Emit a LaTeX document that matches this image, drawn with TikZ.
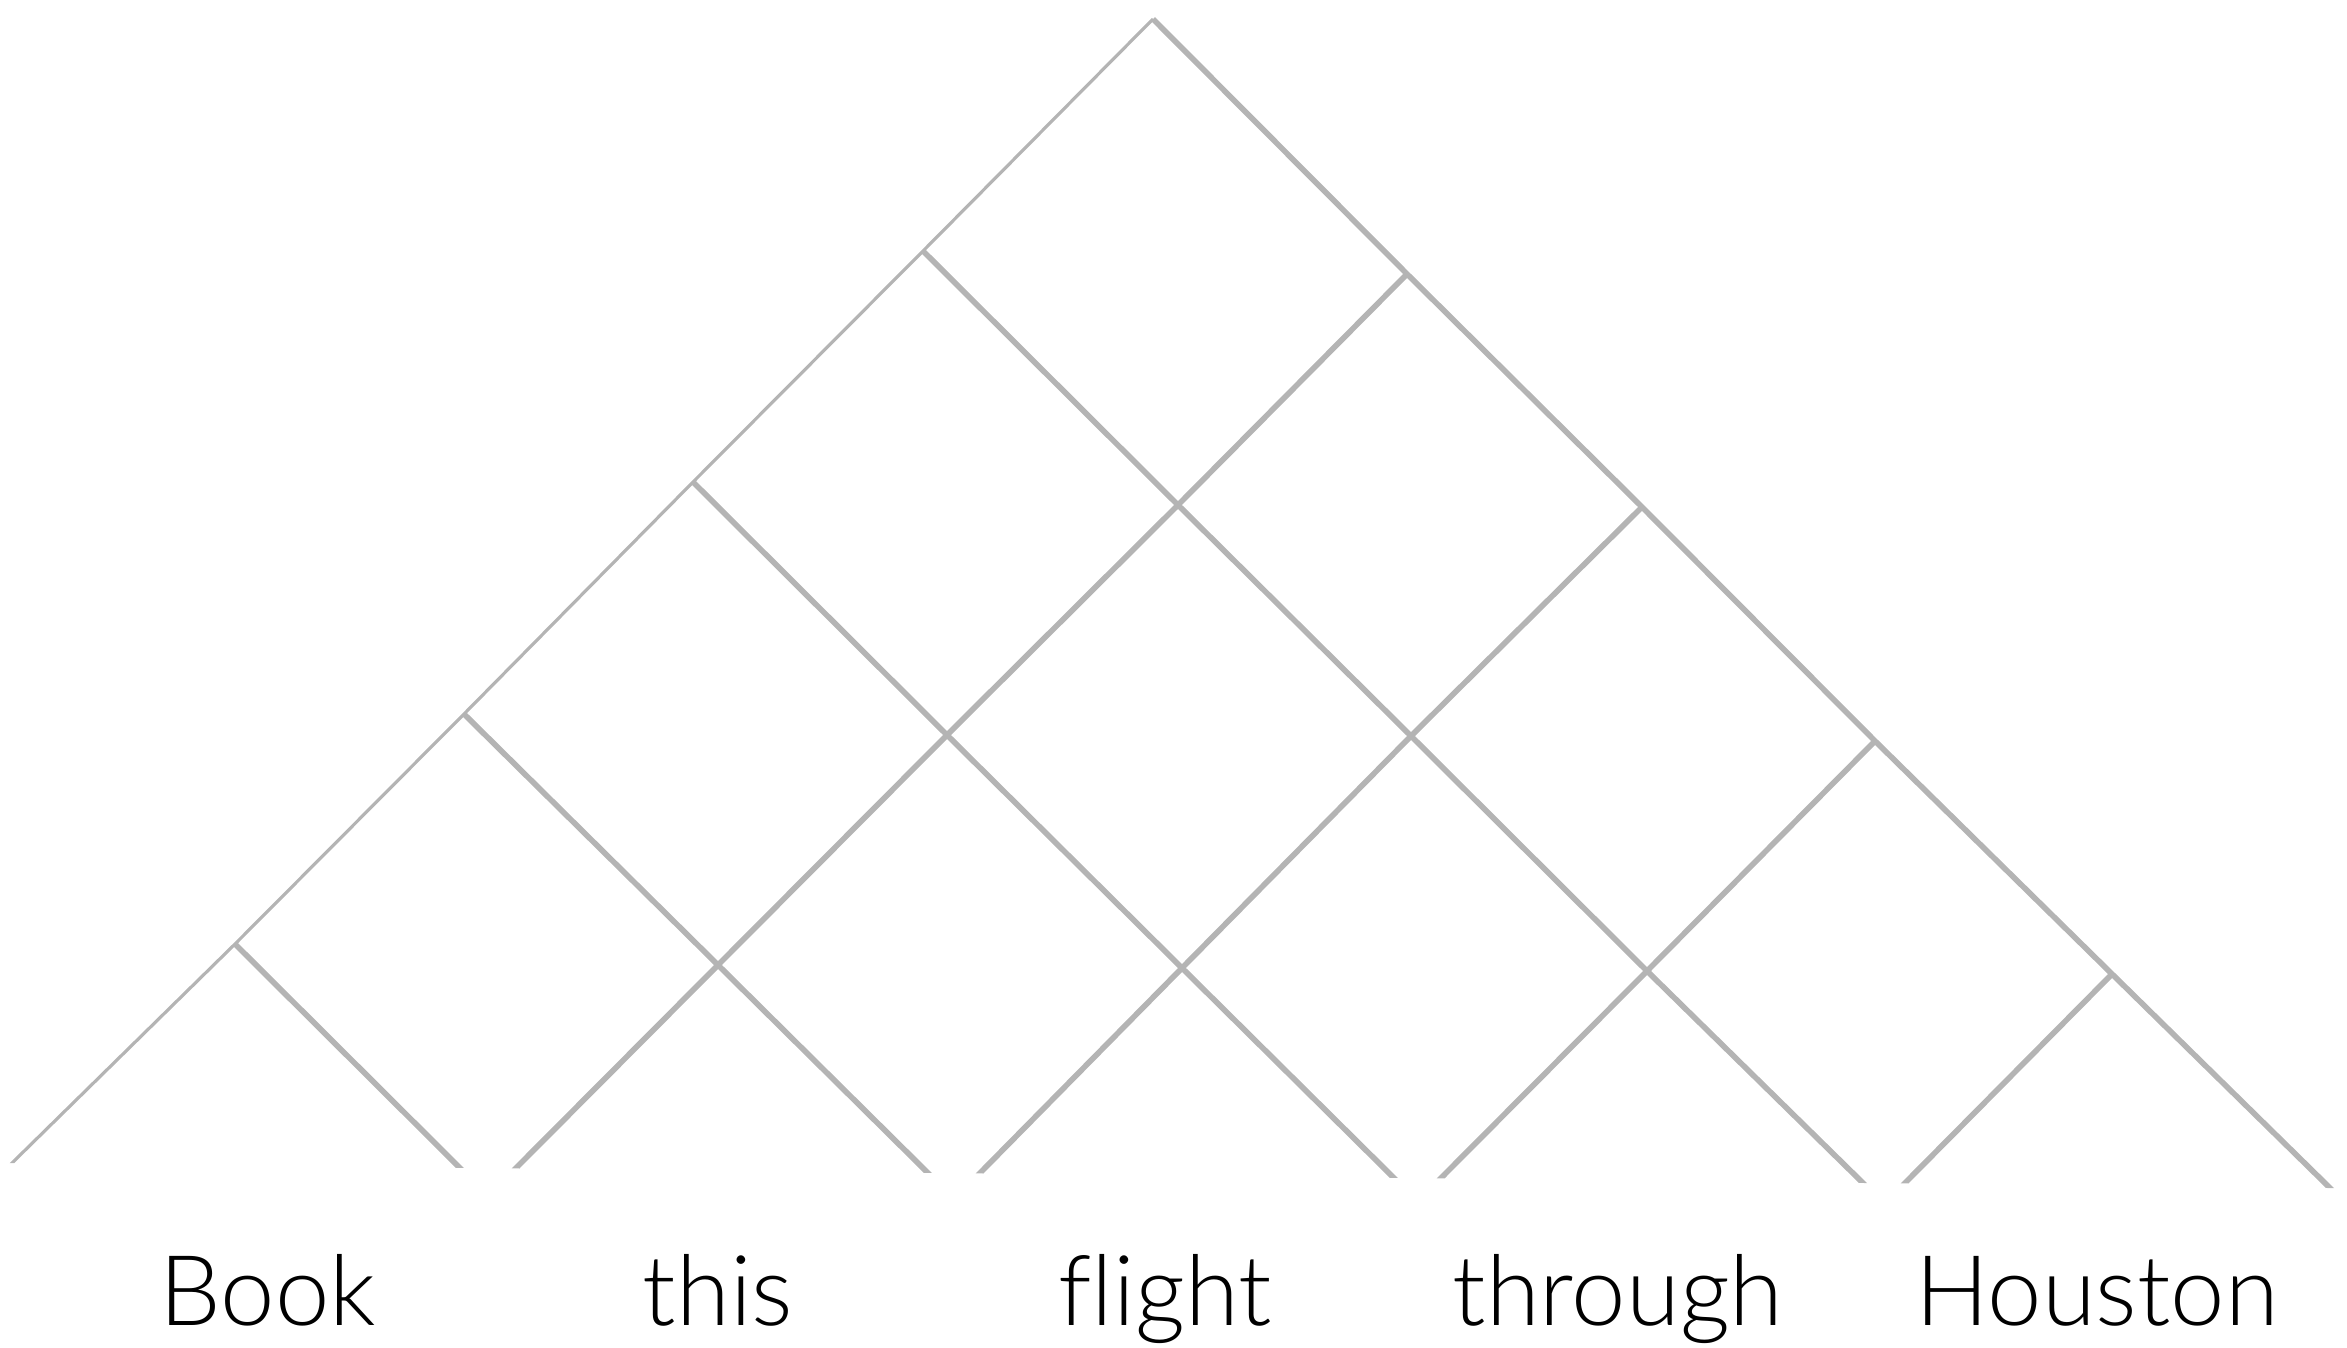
\documentclass[tikz,border=0pt]{standalone}
\usepackage{fontspec}
\setmainfont{Lato}[UprightFont=* Light,Ligatures=NoCommon]
\begin{document}
\begin{tikzpicture}[line join = round, line cap = butt,font=\fontsize{27.8}{33}\selectfont,scale=1]
            \definecolor{chartgray}{RGB}{180,180,180}
            \tikzset{cell/.style={draw=chartgray,line width=1.6pt},
                     rim/.style={draw=chartgray,line width=.9pt},
                     word/.style={anchor=base,inner sep=0pt}}
            \useasboundingbox (0,0) rectangle (23.47,-13.47);
            %===============================
            % corners of the chart
            \coordinate (A) at (11.53,-0.19);
            \coordinate (L1) at (2.35,-9.44);
            \coordinate (L2) at (4.64,-7.14);
            \coordinate (L3) at (6.93,-4.82);
            \coordinate (L4) at (9.23,-2.51);
            \coordinate (R1) at (14.07,-2.74);
            \coordinate (R2) at (16.42,-5.07);
            \coordinate (R3) at (18.75,-7.41);
            \coordinate (R4) at (21.12,-9.74);
            \coordinate (C11) at (11.78,-5.05);
            \coordinate (C21) at (9.47,-7.35);
            \coordinate (C22) at (14.11,-7.36);
            \coordinate (C31) at (7.18,-9.65);
            \coordinate (C32) at (11.82,-9.68);
            \coordinate (C33) at (16.47,-9.71);
            % open ends above the words
            \coordinate (E0) at (0.12,-11.63);
            \coordinate (E1) at (4.60,-11.68);
            \coordinate (E2) at (5.16,-11.68);
            \coordinate (E3) at (9.28,-11.73);
            \coordinate (E4) at (9.80,-11.73);
            \coordinate (E5) at (13.95,-11.79);
            \coordinate (E6) at (14.40,-11.79);
            \coordinate (E7) at (18.64,-11.84);
            \coordinate (E8) at (19.04,-11.84);
            \coordinate (E9) at (23.30,-11.88);
            %===============================
            \begin{scope}
            % flat cut along the bottom
            \clip (0,0)--(0,-11.63)--(E0)--(E9)--(23.47,-11.88)--(23.47,0)--cycle;
            \draw[rim] (E0)++(-.05,-.05)--(E0)--(L1)--(L2)--(L3)--(L4)--(A);
            \draw[cell] (A)--(R1)--(R2)--(R3)--(R4)--(E9)--++(.05,-.05);
            \draw[cell] (L1)--(E1)--++(.05,-.05) (L2)--(C31)--(E3)--++(.05,-.05)
            (L3)--(C21)--(C32)--(E5)--++(.05,-.05)
            (L4)--(C11)--(C22)--(C33)--(E7)--++(.05,-.05);
            \draw[cell] (R1)--(C11)--(C21)--(C31)--(E2)--++(-.05,-.05)
            (R2)--(C22)--(C32)--(E4)--++(-.05,-.05)
            (R3)--(C33)--(E6)--++(-.05,-.05) (R4)--(E8)--++(-.05,-.05);
            \end{scope}
            %===============================
            \node[word] (book) at (2.68,-13.25) {Book};
            \node[word] (this) at (7.18,-13.25) {this};
            \node[word] (flight) at (11.65,-13.25) {flight};
            \node[word] (through) at (16.18,-13.25) {through};
            \node[word] (houston) at (20.97,-13.25) {Houston};
        \end{tikzpicture}
\end{document}
